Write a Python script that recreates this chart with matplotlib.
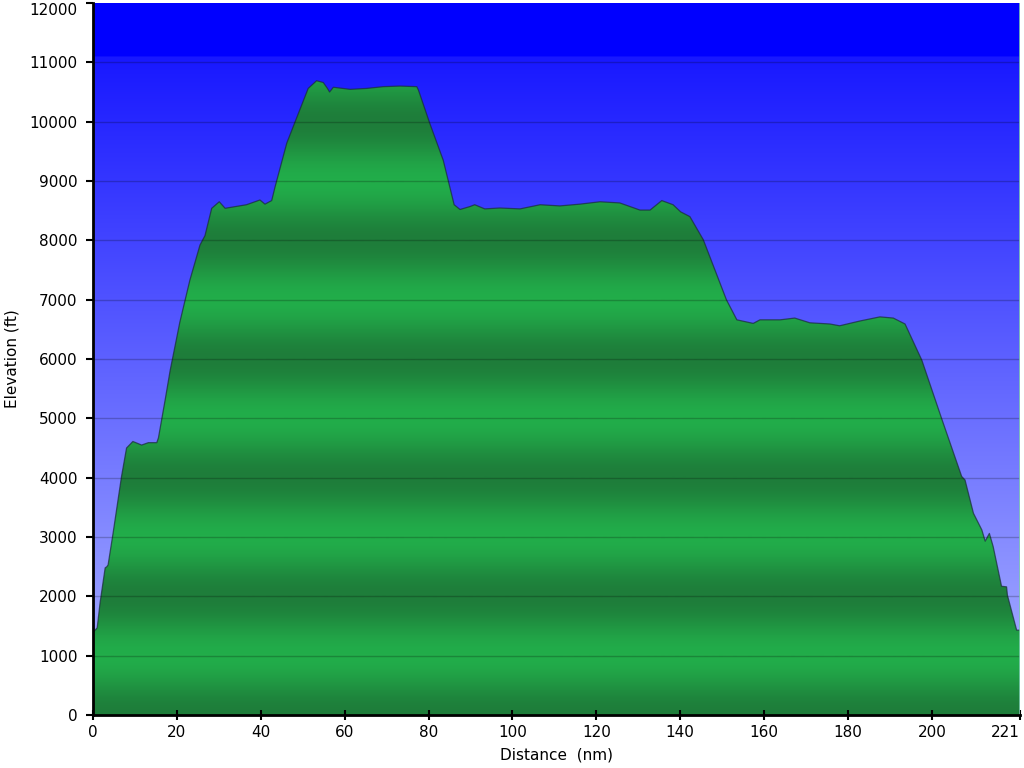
import numpy as np
import matplotlib
matplotlib.use("Agg")
import matplotlib.pyplot as plt
from matplotlib.colors import LinearSegmentedColormap

# route profile
dist = [0, 0.5, 1.0, 1.7, 2.9, 3.3, 3.6, 4.8, 6.8, 8.0,
        9.5, 11.6, 13.2, 15.2, 15.6, 17.2, 18.4, 20.7, 23.1, 25.5,
        26.7, 28.3, 30.1, 31.5, 36.6, 39.8, 41.0, 42.6, 43.4, 46.2,
        49.3, 51.3, 53.3, 54.9, 55.9, 56.4, 57.3, 61.3, 65.2, 69.2,
        73.2, 77.2, 77.6, 80.3, 83.5, 86.1, 87.5, 89.9, 91.0, 93.4,
        97.0, 101.8, 106.6, 111.3, 116.1, 120.9, 125.6, 130.4, 132.8, 135.6,
        138.3, 140.1, 142.3, 145.5, 151.0, 153.5, 157.4, 159.0, 163.8, 167.3,
        170.9, 175.7, 178.0, 182.8, 187.6, 190.8, 193.6, 197.6, 202.3, 207.1,
        207.9, 209.9, 211.9, 212.7, 213.7, 214.6, 216.6, 217.8, 218.0, 220.2,
        221]
elev = [1400, 1430, 1470, 1900, 2480, 2500, 2530, 3070, 4020, 4500,
        4610, 4550, 4590, 4590, 4670, 5310, 5810, 6620, 7330, 7920,
        8080, 8540, 8650, 8540, 8600, 8680, 8610, 8670, 8900, 9640,
        10200, 10560, 10690, 10660, 10560, 10500, 10580, 10545, 10560, 10590,
        10600, 10590, 10530, 9970, 9350, 8600, 8520, 8570, 8600, 8530,
        8545, 8530, 8600, 8580, 8610, 8650, 8630, 8510, 8510, 8670,
        8600, 8480, 8400, 8010, 7000, 6660, 6600, 6660, 6660, 6690,
        6610, 6590, 6560, 6640, 6710, 6690, 6590, 5980, 5000, 4020,
        3960, 3400, 3120, 2930, 3060, 2840, 2170, 2160, 2020, 1430,
        1430]

x_ticks = [0, 20, 40, 60, 80, 100, 120, 140, 160, 180, 200, 221]
y_ticks = list(range(0, 12001, 1000))
x_max = 221
y_max = 12000

plt.rcParams['font.family'] = ['DejaVu Sans']

fig = plt.figure(figsize=(10.24, 7.68), dpi=100)
ax = fig.add_axes([93 / 1024, 53 / 768, 927 / 1024, 712 / 768])

# sky: blue gradient, solid blue band at the top
h = np.linspace(0, y_max, 600)
frac = np.clip(1 - h / 11100.0, 0, 1)
sky = np.zeros((len(h), 1, 3))
sky[:, 0, 0] = (24 + frac * 150) / 255
sky[:, 0, 1] = (24 + frac * 158) / 255
sky[:, 0, 2] = 1.0
sky[h > 11100] = [0, 0, 1]
ax.imshow(sky, extent=[0, x_max, 0, y_max], origin='lower', aspect='auto',
          interpolation='bilinear', zorder=0)

# terrain: green bands, dark at even thousands, light at odd
green = LinearSegmentedColormap.from_list('terrain', ['#1e7d3a', '#22ad4a'])
band = 0.5 - 0.5 * np.cos(np.pi * h / 1000.0)
ground = ax.imshow(band.reshape(-1, 1), cmap=green, vmin=0, vmax=1,
                   extent=[0, x_max, 0, y_max], origin='lower', aspect='auto',
                   interpolation='bilinear', zorder=1)
poly = ax.fill_between(dist, elev, 0, facecolor='none', edgecolor='none')
ground.set_clip_path(poly.get_paths()[0], transform=ax.transData)
ax.plot(dist, elev, color='#1a2a3a', lw=0.9, alpha=0.7, zorder=2)

for yv in y_ticks[1:-1]:
    ax.axhline(yv, color='black', lw=1, alpha=0.22, zorder=3)
ax.axvline(x_max, color='#7fc9b0', lw=1.2, zorder=3)

ax.set_xlim(0, x_max)
ax.set_ylim(0, y_max)
ax.set_xticks(x_ticks)
ax.set_yticks(y_ticks)
ax.tick_params(axis='y', direction='out', length=5, width=1.5, labelsize=11, pad=6)
ax.tick_params(axis='x', direction='inout', length=7, width=1.5, labelsize=11, pad=4)

# keep the end labels inside the picture
xl = ax.get_xticklabels()
xl[-1].set_horizontalalignment('right')
xl[-1].set_x(x_max + 0.3)
yl = ax.get_yticklabels()
yl[-1].set_verticalalignment('top')

for side in ['top', 'right']:
    ax.spines[side].set_visible(False)
for side in ['left', 'bottom']:
    ax.spines[side].set_linewidth(2)
    ax.spines[side].set_zorder(5)

ax.set_xlabel('Distance  (nm)', fontsize=11, labelpad=5)
ax.set_ylabel('Elevation (ft)', fontsize=11, labelpad=7)

plt.savefig('out.png', dpi=100)
